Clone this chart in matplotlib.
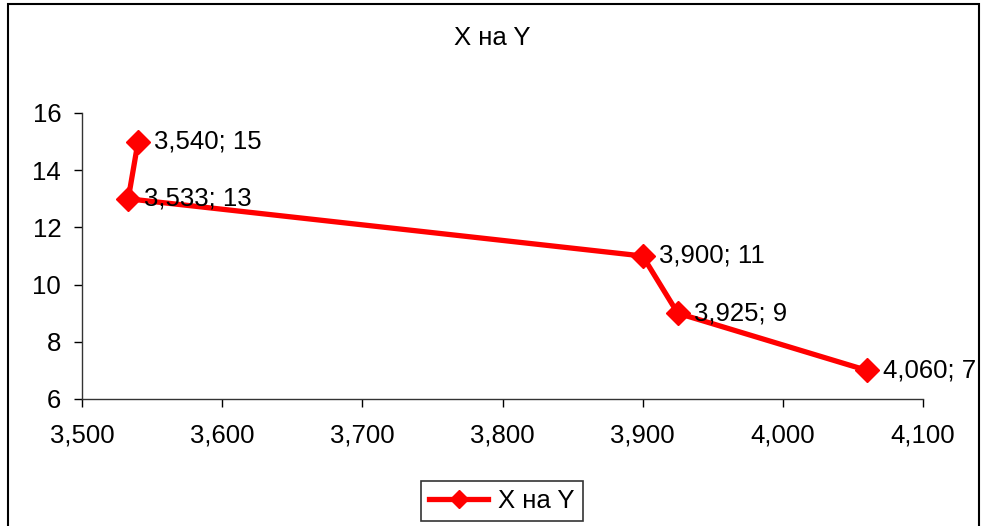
import matplotlib
matplotlib.use("Agg")
import matplotlib.pyplot as plt
from matplotlib.ticker import FuncFormatter
from matplotlib.patches import Rectangle

plt.rcParams['font.family'] = ['Liberation Sans', 'DejaVu Sans']

# data
x_vals = [3.540, 3.533, 3.900, 3.925, 4.060]
y_vals = [15, 13, 11, 9, 7]
series_name = "X на Y"
title = "X на Y"

fs = 18.5

fig = plt.figure(figsize=(9.81, 5.26), dpi=100)
ax = fig.add_axes([82 / 981, 1 - 399 / 526, (923 - 82) / 981, (399 - 113) / 526])

# outer frame like the chart area
fig.patches.append(Rectangle((8 / 981, -0.01), (979 - 8) / 981, 1 - 4 / 526 + 0.01,
                             transform=fig.transFigure, fill=False,
                             edgecolor='black', linewidth=1.5))

ax.plot(x_vals, y_vals, color='red', linewidth=3.8, marker='D', markersize=12,
        label=series_name, solid_joinstyle='miter')

for xv, yv in zip(x_vals, y_vals):
    txt = f"{xv:.3f}".replace('.', ',') + f"; {yv}"
    ax.annotate(txt, (xv, yv), xytext=(11.5, 0), textcoords='offset points',
                va='center', ha='left', fontsize=fs)

ax.set_xlim(3.5, 4.1)
ax.set_ylim(6, 16)
ax.set_xticks([3.5, 3.6, 3.7, 3.8, 3.9, 4.0, 4.1])
ax.set_yticks([6, 8, 10, 12, 14, 16])
ax.xaxis.set_major_formatter(FuncFormatter(lambda v, p: f"{v:.3f}".replace('.', ',')))
ax.tick_params(labelsize=fs, direction='out', length=6, width=1)
ax.tick_params(axis='x', pad=12)
ax.tick_params(axis='y', pad=9)

for s in ['top', 'right']:
    ax.spines[s].set_visible(False)
for s in ['left', 'bottom']:
    ax.spines[s].set_linewidth(1)
    ax.spines[s].set_color('#333333')

fig.text(492 / 981, 1 - 38 / 526, title, ha='center', va='center', fontsize=fs)

leg = fig.legend(loc='center', bbox_to_anchor=(502 / 981, 1 - 501 / 526), fontsize=fs,
                 fancybox=False, edgecolor='#333333', framealpha=1,
                 handlelength=2.3, borderpad=0.3, handletextpad=0.4, markerscale=0.8)
leg.get_frame().set_linewidth(1.2)

fig.savefig("out.png", dpi=100)
